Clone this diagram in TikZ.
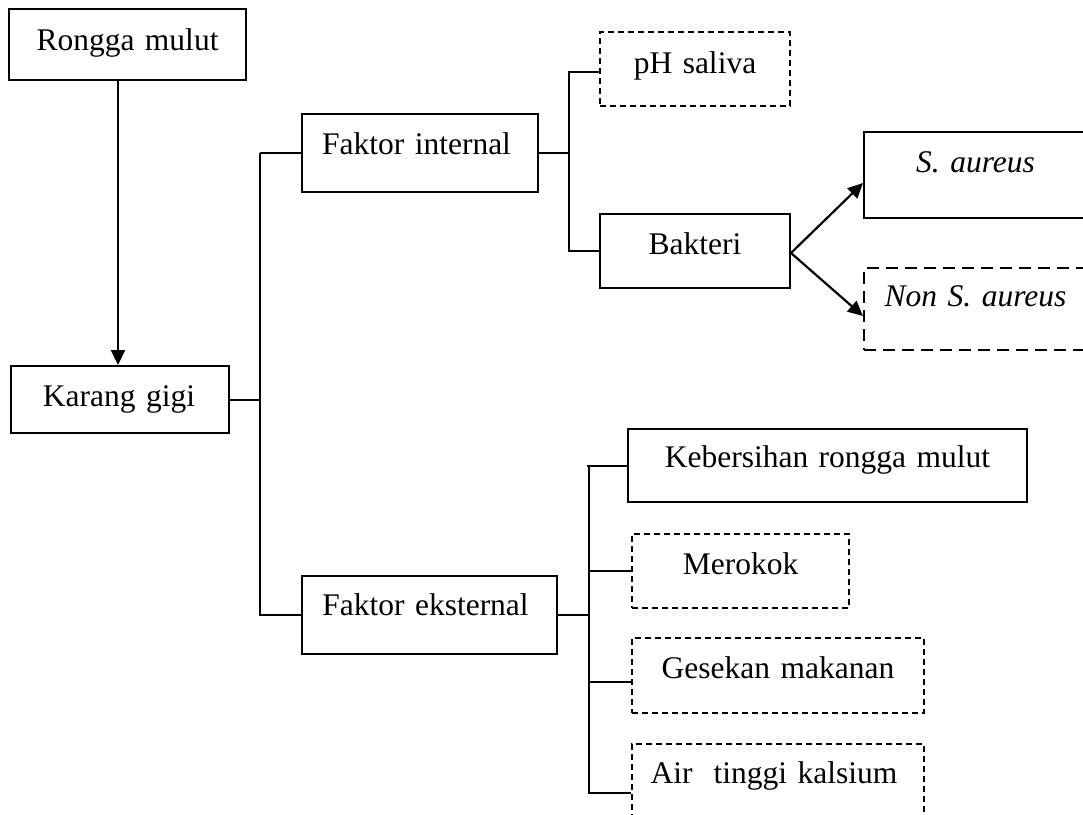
\documentclass[tikz,border=0pt]{standalone}
\usepackage{fontspec}
\setmainfont{Liberation Serif}
\usetikzlibrary{arrows.meta}
\begin{document}
\begin{tikzpicture}[x=1pt,y=-1pt,
  every node/.style={font=\fontsize{31.5}{36}\selectfont},
  box/.style={draw, line width=2pt, inner sep=0pt, anchor=north west, align=center},
  dbox/.style={box, dash pattern=on 6pt off 4pt},
  ldbox/.style={box, dash pattern=on 12pt off 7pt},
  conn/.style={line width=2pt},
  arr/.style={line width=2.2pt, -{Triangle[length=15pt,width=14pt]}}
]
\useasboundingbox (0,0) rectangle (1083,814);
\node[box, text width=237pt, text height=41pt, text depth=30pt] (rm) at (8,8) {Rongga mulut};
\node[box, text width=218pt, text height=40pt, text depth=27pt] (kg) at (10,365) {\hspace*{-2pt}Karang gigi};
\node[box, text width=236pt, text height=40pt, text depth=38pt] (fi) at (301,113) {\hspace*{-7pt}Faktor internal};
\node[dbox, text width=190pt, text height=41pt, text depth=33pt] (ph) at (599,31) {pH saliva};
\node[box, text width=190pt, text height=40pt, text depth=34pt] (bak) at (599,213) {Bakteri};
\node[box, text width=223pt, text height=40pt, text depth=46pt] (sa) at (863,131) {\itshape S. aureus};
\node[ldbox, text width=223pt, text height=38pt, text depth=44pt] (nsa) at (863,267) {\itshape Non S. aureus};
\node[box, text width=255pt, text height=39pt, text depth=39pt] (fe) at (301,575) {\hspace*{-8pt}Faktor eksternal};
\node[box, text width=399pt, text height=38pt, text depth=35pt] (kb) at (627,428) {Kebersihan rongga mulut};
\node[dbox, text width=217pt, text height=40pt, text depth=34pt] (mer) at (631,533) {Merokok};
\node[dbox, text width=292pt, text height=40pt, text depth=35pt] (ges) at (631,637) {Gesekan makanan};
\node[dbox, text width=292pt, text height=39pt, text depth=47pt] (air) at (631,743) {\hspace*{-8pt}Air\ \ tinggi kalsium};

% arrow Rongga mulut -> Karang gigi
\draw[arr] ([xshift=-9.5pt]rm.south) -- ([xshift=-9.5pt]rm.south |- kg.north);

% Karang gigi -> factors
\coordinate (kx) at ([xshift=30pt]kg.east);
\draw[conn] (kg.east) -- (kx);
\draw[conn] (kx |- fi.west) -- (fi.west);
\draw[conn] (kx |- fi.west) -- (kx |- fe.west) -- (fe.west);

% Faktor internal -> pH saliva, Bakteri
\coordinate (ix) at ([xshift=30pt]fi.east);
\draw[conn] (fi.east) -- (ix);
\draw[conn] ([yshift=-3pt]ph.west) -| (ix |- bak.west) -- (bak.west);

% Bakteri -> S. aureus, Non S. aureus
\draw[arr] ([yshift=-2pt]bak.east) -- ([yshift=-8pt]sa.west);
\draw[arr] ([yshift=-2pt]bak.east) -- ([yshift=-7pt]nsa.west);

% Faktor eksternal -> four items
\coordinate (ex) at ([xshift=31pt]fe.east);
\coordinate (gesin) at ([yshift=-6pt]ges.west);
\coordinate (airin) at ([yshift=-6pt]air.west);
\draw[conn] (fe.east) -- (ex);
\draw[conn] (kb.west) -- ([xshift=-2pt]ex |- kb.west);
\draw[conn] (ex |- kb.west) |- (airin);
\draw[conn] (ex |- mer.west) -- (mer.west);
\draw[conn] (ex |- gesin) -- (gesin);
\end{tikzpicture}
\end{document}
